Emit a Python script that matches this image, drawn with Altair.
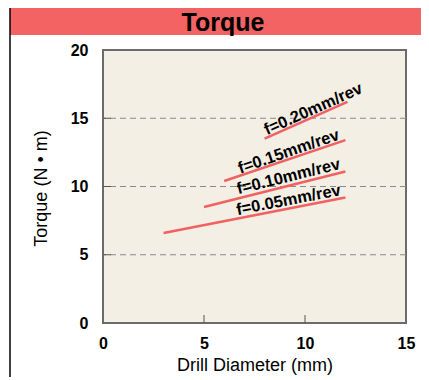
import altair as alt
import pandas as pd

# Data
series = ["f=0.05mm/rev", "f=0.10mm/rev", "f=0.15mm/rev", "f=0.20mm/rev"]
x_start = [3.0, 5.0, 6.0, 8.0]
y_start = [6.6, 8.5, 10.4, 13.5]
x_end = [12.0, 12.0, 12.0, 12.1]
y_end = [9.2, 11.1, 13.4, 16.2]

label_x = [9.18, 9.18, 9.19, 10.41]
label_y = [9.0, 10.72, 12.55, 15.66]
label_angle = [349, 346, 341, 336]

grid_values = [5, 10, 15]
x_ticks = [0, 5, 10, 15]
y_ticks = [0, 5, 10, 15, 20]

FONT = "Liberation Sans"
W, H = 303, 273

rows = []
for s, xs, ys, xe, ye in zip(series, x_start, y_start, x_end, y_end):
    rows.append({"series": s, "x": xs, "y": ys, "o": 0})
    rows.append({"series": s, "x": xe, "y": ye, "o": 1})
lines_df = pd.DataFrame(rows)
labels_df = pd.DataFrame({"series": series, "x": label_x, "y": label_y, "angle": label_angle})
grid_df = pd.DataFrame({"v": grid_values})
xt_df = pd.DataFrame({"v": [5, 10]})
yt_df = pd.DataFrame({"v": [5, 10, 15]})

xscale = alt.Scale(domain=[0, 15], nice=False, zero=False)
yscale = alt.Scale(domain=[0, 20], nice=False, zero=False)

xaxis = alt.Axis(values=x_ticks, grid=False, domain=False, ticks=False,
                 labelFlush=False,
                 labelFont=FONT, labelFontWeight="bold", labelFontSize=16,
                 labelColor="black", labelPadding=12,
                 title="Drill Diameter (mm)", titleFont=FONT, titleFontSize=18,
                 titleFontWeight="normal", titleColor="black",
                 titleY=42, titleBaseline="middle")
yaxis = alt.Axis(values=y_ticks, grid=False, domain=False, ticks=False,
                 labelFlush=False,
                 labelFont=FONT, labelFontWeight="bold", labelFontSize=16,
                 labelColor="black", labelPadding=15,
                 title="Torque (N • m)", titleFont=FONT, titleFontSize=18,
                 titleFontWeight="normal", titleColor="black",
                 titleX=-62, titleY=138, titleBaseline="middle", titleAngle=270)

base_df = pd.DataFrame({"a": [0]})

# Decorative frame: header band, outer border
band = alt.Chart(base_df).mark_rect(color="#F46363").encode(
    x=alt.value(-93), x2=alt.value(W + 15), y=alt.value(-42), y2=alt.value(-15))
left_line = alt.Chart(base_df).mark_rule(color="black", strokeWidth=1.5).encode(
    x=alt.value(-93), y=alt.value(-42), y2=alt.value(H + 60))
title = alt.Chart(base_df).mark_text(
    text="Torque", font=FONT, fontSize=25, fontWeight="bold", color="black",
    align="center", baseline="middle").encode(
    x=alt.value(120), y=alt.value(-27))

grid = alt.Chart(grid_df).mark_rule(color="#8a8a8a", strokeDash=[6, 4], strokeWidth=1).encode(
    y=alt.Y("v:Q", scale=yscale, axis=yaxis))

xt = alt.Chart(xt_df).mark_rule(color="#555555", strokeWidth=1).encode(
    x=alt.X("v:Q", scale=xscale, axis=xaxis), y=alt.value(H), y2=alt.value(H - 8))
yt = alt.Chart(yt_df).mark_rule(color="#555555", strokeWidth=1).encode(
    y=alt.Y("v:Q", scale=yscale), x=alt.value(0), x2=alt.value(8))

lines = alt.Chart(lines_df).mark_line(color="#F26060", strokeWidth=2.5).encode(
    x=alt.X("x:Q", scale=xscale),
    y=alt.Y("y:Q", scale=yscale),
    detail="series:N", order="o:Q")

labels = alt.Chart(labels_df).mark_text(
    font=FONT, fontSize=16.5, fontWeight="bold", color="black",
    align="center", baseline="middle").encode(
    x=alt.X("x:Q", scale=xscale),
    y=alt.Y("y:Q", scale=yscale),
    text="series:N",
    angle=alt.Angle("angle:Q", scale=None))

chart = alt.layer(band, left_line, title, grid, xt, yt, lines, labels).properties(
    width=W, height=H,
    autosize=alt.AutoSizeParams(type="none"),
    padding={"left": 95, "top": 42, "right": 15, "bottom": 54},
    background="white",
).configure_view(
    fill="#F3EFE5", stroke="#6b6b6b", strokeWidth=2
)

chart.save("out.html", embed_options={"renderer": "svg", "actions": False})
